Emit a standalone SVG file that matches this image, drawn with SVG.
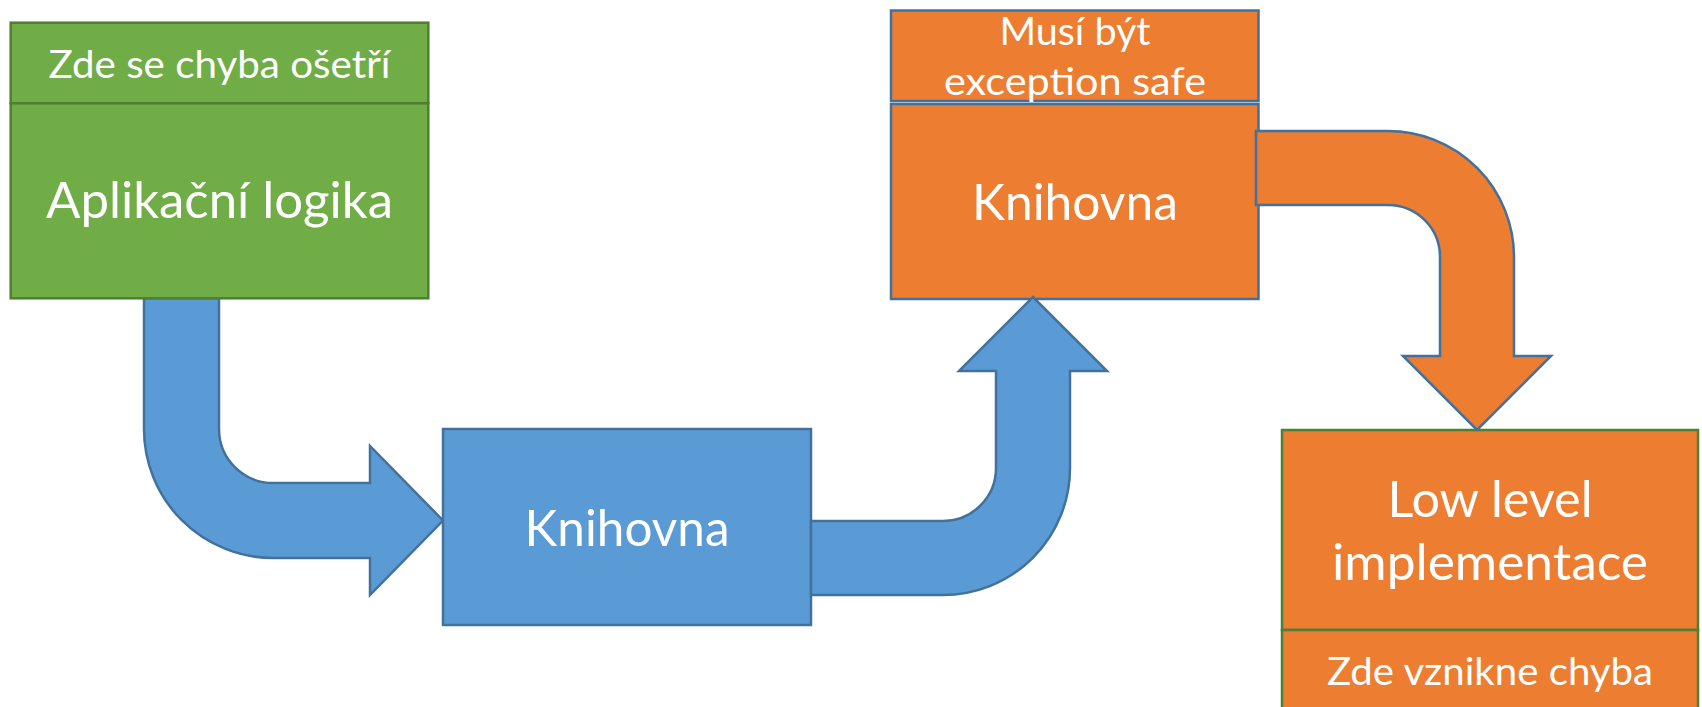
<svg xmlns="http://www.w3.org/2000/svg" width="1702" height="707" viewBox="0 0 1702 707">
<style>
.g{fill:#70AD47;stroke:#507E32;stroke-width:2.5}
.b{fill:#5B9BD5;stroke:#41719C;stroke-width:2.5}
.o{fill:#ED7D31;stroke:#41719C;stroke-width:2.5}
.og{fill:#ED7D31;stroke:#507E32;stroke-width:2.5}
.t{font-family:Lato,"Open Sans","Liberation Sans",sans-serif;fill:#FFFFFF;text-anchor:middle}
.s{font-size:39.5px}
.l{font-size:50px}
</style>
<rect width="1702" height="707" fill="#FFFFFF"/>
<g id="connectors">
<path class="b" d="M144,298 L219,298 L219,429 A54,54 0 0 0 273,483 L370,483 L370,446 L443,520.5 L370,595 L370,558 L273,558 A129,129 0 0 1 144,429 Z"/>
</g>
<g id="app">
<rect class="g" x="10.7" y="22.7" width="417.6" height="80.6"/>
<rect class="g" x="10.7" y="103.3" width="417.6" height="195"/>
<text class="t s" x="219.5" y="78" textLength="342" lengthAdjust="spacingAndGlyphs">Zde se chyba ošetří</text>
<text class="t l" x="219.5" y="218" textLength="347" lengthAdjust="spacingAndGlyphs">Aplikační logika</text>
</g>
<g id="lib1">
<rect class="b" x="443" y="429" width="368" height="196"/>
<text class="t l" x="627" y="546" textLength="205" lengthAdjust="spacingAndGlyphs">Knihovna</text>
</g>
<g id="lib2">
<rect class="o" x="891" y="10.5" width="367.5" height="90.5"/>
<rect class="o" x="891" y="104" width="367.5" height="195"/>
<text class="t s" x="1075" y="45" textLength="151" lengthAdjust="spacingAndGlyphs">Musí být</text>
<text class="t s" x="1075" y="95" textLength="262" lengthAdjust="spacingAndGlyphs">exception safe</text>
<text class="t l" x="1075" y="220" textLength="206" lengthAdjust="spacingAndGlyphs">Knihovna</text>
</g>
<g id="lowlevel">
<rect class="og" x="1282" y="430" width="416" height="200"/>
<rect class="og" x="1282" y="630" width="416" height="100"/>
<text class="t l" x="1490" y="517" textLength="205" lengthAdjust="spacingAndGlyphs">Low level</text>
<text class="t l" x="1490" y="580" textLength="316" lengthAdjust="spacingAndGlyphs">implementace</text>
<text class="t s" x="1490" y="685" textLength="326" lengthAdjust="spacingAndGlyphs">Zde vznikne chyba</text>
</g>
<g id="connectors-top">
<path class="b" d="M811,521 L943,521 A53,53 0 0 0 996,468 L996,371 L959,371 L1033,297 L1107,371 L1070,371 L1070,468 A127,127 0 0 1 943,595 L811,595 Z"/>
<path class="o" d="M1256,131 L1388,131 A126,126 0 0 1 1514,257 L1514,356 L1551,356 L1477,430 L1403,356 L1440,356 L1440,257 A52,52 0 0 0 1388,205 L1256,205 Z"/>
</g>
</svg>
